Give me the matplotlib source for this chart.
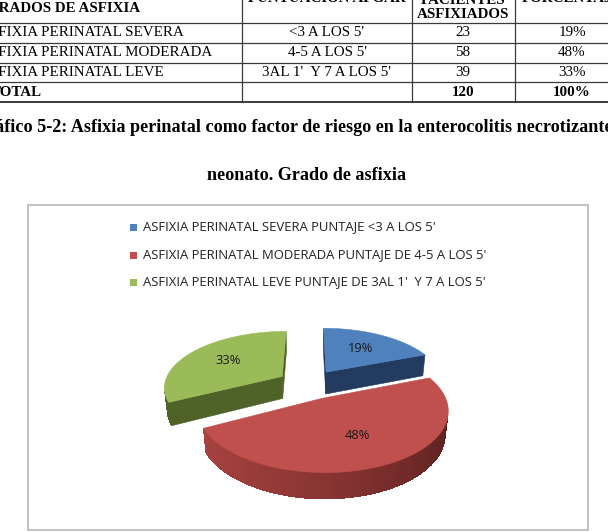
import numpy as np
import matplotlib.pyplot as plt
from matplotlib.patches import Polygon, Rectangle
from matplotlib.colors import to_rgb

# table / chart data
grados = ["ASFIXIA PERINATAL SEVERA", "ASFIXIA PERINATAL MODERADA", "ASFIXIA PERINATAL LEVE"]
apgar = ["<3 A LOS 5'", "4-5 A LOS 5'", "3AL 1'  Y 7 A LOS 5'"]
pacientes = [23, 58, 39]
porcentajes = [19, 48, 33]
total_label = ["TOTAL", "", "120", "100%"]
header = ["GRADOS DE ASFIXIA", "PUNTUACION APGAR", "PACIENTES\nASFIXIADOS", "PORCENTAJE"]
legend_labels = ["ASFIXIA PERINATAL SEVERA PUNTAJE <3 A LOS 5'",
                 "ASFIXIA PERINATAL MODERADA PUNTAJE DE 4-5 A LOS 5'",
                 "ASFIXIA PERINATAL LEVE PUNTAJE DE 3AL 1'  Y 7 A LOS 5'"]
caption1 = "Gráfico 5-2: Asfixia perinatal como factor de riesgo en la enterocolitis necrotizante en el"
caption2 = "neonato. Grado de asfixia"

top_colors = ["#4F81BD", "#C0504D", "#9BBB59"]
side_light = ["#223B5E", "#AA4441", "#4F6228"]
side_dark = ["#223B5E", "#5A201F", "#4F6228"]

W, H = 608, 532
fig = plt.figure(figsize=(6.08, 5.32), dpi=100)
ax = fig.add_axes([0, 0, 1, 1])
ax.set_xlim(0, W)
ax.set_ylim(H, 0)
ax.axis('off')

serif = "Liberation Serif"
sans = "Open Sans"
fs_tab = 10.8

# ---- table ----
col_lines = [242, 412, 515]
row_lines = [23, 43, 63, 82, 102]
col_centers = [None, 327, 463, 572]
for x in col_lines:
    ax.plot([x, x], [-5, 102], color="#3a3a3a", lw=0.9)
for y in row_lines:
    ax.plot([-5, W + 5], [y, y], color="#3a3a3a", lw=1.4 if y == 102 else 0.9)

ax.text(-13, 8, header[0], fontsize=fs_tab, fontweight="bold", family=serif, va="center")
ax.text(col_centers[1], -2, header[1], fontsize=fs_tab, fontweight="bold", family=serif, ha="center", va="center")
ax.text(col_centers[2], 7.5, header[2], fontsize=fs_tab, fontweight="bold", family=serif, ha="center",
        va="center", linespacing=1.1)
ax.text(col_centers[3], -2, header[3], fontsize=fs_tab, fontweight="bold", family=serif, ha="center", va="center")

row_y = [33, 53, 73]
for i in range(3):
    y = row_y[i]
    ax.text(-21, y, grados[i], fontsize=fs_tab, family=serif, va="center")
    ax.text(col_centers[1], y, apgar[i], fontsize=fs_tab, family=serif, ha="center", va="center")
    ax.text(col_centers[2], y, str(pacientes[i]), fontsize=fs_tab, family=serif, ha="center", va="center")
    ax.text(col_centers[3], y, f"{porcentajes[i]}%", fontsize=fs_tab, family=serif, ha="center", va="center")
ax.text(-9, 93, total_label[0], fontsize=fs_tab, fontweight="bold", family=serif, va="center")
ax.text(col_centers[2], 93, total_label[2], fontsize=fs_tab, fontweight="bold", family=serif, ha="center", va="center")
ax.text(col_centers[3], 92, total_label[3], fontsize=fs_tab, fontweight="bold", family=serif, ha="center", va="center")

# ---- caption ----
ax.text(-27, 128, caption1, fontsize=13.1, fontweight="bold", family=serif, va="center")
ax.text(307, 175, caption2, fontsize=13.1, fontweight="bold", family=serif, ha="center", va="center")

# ---- chart box ----
ax.add_patch(Rectangle((28, 205), 560, 325, fill=False, edgecolor="#BDBDBD", lw=1.3))

# ---- legend ----
leg_y = [227, 255, 282]
for i, lab in enumerate(legend_labels):
    ax.add_patch(Rectangle((130, leg_y[i] - 3.5), 7, 7, facecolor=top_colors[i], edgecolor="none"))
    ax.text(143, leg_y[i], lab, fontsize=9.45, family=sans, va="center", color="#222222")

# ---- 3D exploded pie ----
phi = np.radians(28)
D, F = 5.0, 590.0
cx, cy = 308.7, 384.0
explode, depth = 0.27, 0.22


def proj(X, Y, Z):
    w = D + Y * np.cos(phi) - Z * np.sin(phi)
    return (cx + F * X / w, cy - F * (Y * np.sin(phi) + Z * np.cos(phi)) / w)


def front_facing(pts):
    x = np.array([p[0] for p in pts])
    y = -np.array([p[1] for p in pts])
    return 0.5 * np.sum(x * np.roll(y, -1) - np.roll(x, -1) * y) > 0


def mix(c1, c2, t):
    a = np.array(to_rgb(c1))
    b = np.array(to_rgb(c2))
    return tuple(a * (1 - t) + b * t)


total = sum(pacientes)
slices = []
start = np.pi / 2
for i, v in enumerate(pacientes):
    t2 = start
    t1 = start - v / total * 2 * np.pi
    start = t1
    m = (t1 + t2) / 2
    slices.append((i, t1, t2, explode * np.cos(m), explode * np.sin(m), m))

# back to front
slices.sort(key=lambda s: -s[4])
for i, t1, t2, ox, oy, m in slices:
    c_top = proj(ox, oy, 0)
    c_bot = proj(ox, oy, -depth)

    def rim(t, z):
        return proj(ox + np.cos(t), oy + np.sin(t), z)

    for pts in ([c_bot, rim(t1, -depth), rim(t1, 0), c_top],
                [rim(t2, -depth), c_bot, c_top, rim(t2, 0)]):
        if front_facing(pts):
            ax.add_patch(Polygon(pts, closed=True, facecolor=side_dark[i], edgecolor=side_dark[i], lw=0.4))

    # curved outer wall: visible arc only, one outline + shaded strips
    ts = np.linspace(t1, t2, 160)
    vis = [a for a, b in zip(ts[:-1], ts[1:])
           if front_facing([rim(a, -depth), rim(b, -depth), rim(b, 0), rim(a, 0)])]
    if vis:
        step = ts[1] - ts[0]
        arc = np.linspace(min(vis), max(vis) + step, 100)
        outline = [rim(t, 0) for t in arc] + [rim(t, -depth) for t in arc[::-1]]
        ax.add_patch(Polygon(outline, closed=True, facecolor=mix(side_dark[i], side_light[i], 0.6),
                             edgecolor="none", lw=0))
        for a in vis:
            b = a + step
            shade = np.clip(0.5 - 0.5 * np.cos((a + b) / 2), 0, 1) ** 0.8
            col = mix(side_dark[i], side_light[i], shade)
            ax.add_patch(Polygon([rim(a, -depth), rim(b + 0.004, -depth), rim(b + 0.004, 0), rim(a, 0)],
                                 closed=True, facecolor=col, edgecolor="none", lw=0, antialiased=False))

    top = [c_top] + [rim(t, 0) for t in np.linspace(t1, t2, 200)]
    ax.add_patch(Polygon(top, closed=True, facecolor=top_colors[i], edgecolor=top_colors[i], lw=0.4))

    lx, ly = proj(ox + 0.6 * np.cos(m), oy + 0.6 * np.sin(m), 0)
    ax.text(lx, ly, f"{porcentajes[i]}%", fontsize=9.3, family=sans, ha="center", va="center",
            color="#1a1a1a")

fig.savefig("out.png", dpi=100)
